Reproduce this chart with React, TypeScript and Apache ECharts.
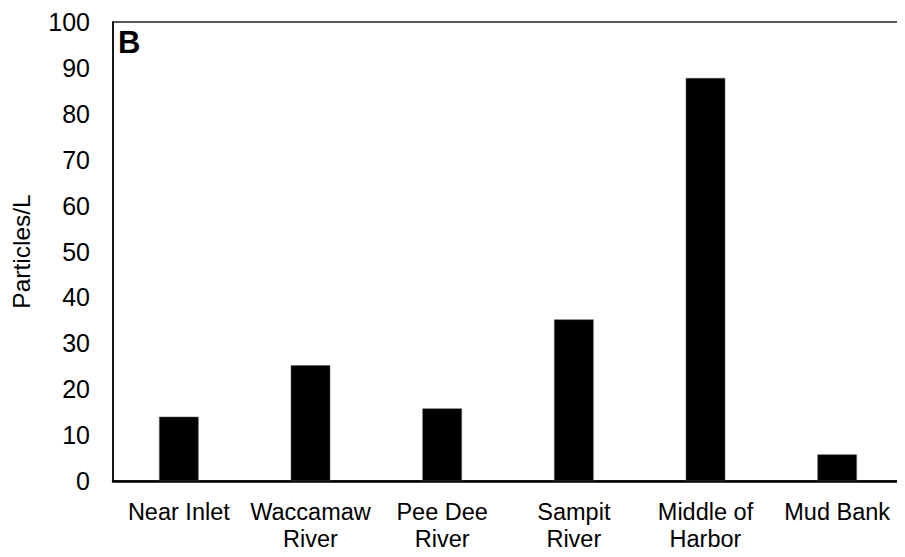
import React, { useEffect, useRef } from "react";
import * as echarts from "echarts";

const categories = ["Near Inlet", "Waccamaw\nRiver", "Pee Dee\nRiver", "Sampit\nRiver", "Middle of\nHarbor", "Mud Bank"];
const particlesPerL = [14.0, 25.2, 15.8, 35.2, 87.8, 5.8];
const yTicks = { min: 0, max: 100, interval: 10 };
const panelLabel = "B";
const yTitle = "Particles/L";

export default function App() {
  const ref = useRef<HTMLDivElement>(null);
  useEffect(() => {
    const chart = echarts.init(ref.current!, null, { renderer: "svg" });
    const font = "Liberation Sans, Arial, sans-serif";
    chart.setOption({
      animation: false,
      backgroundColor: "#fff",
      textStyle: { fontFamily: font },
      grid: {
        left: 113,
        right: 2,
        top: 22,
        bottom: 76,
        show: true,
        borderColor: "#222",
        borderWidth: 1.5,
      },
      xAxis: {
        type: "category",
        data: categories,
        axisLine: { show: true, lineStyle: { color: "#000", width: 2.5 } },
        axisTick: { show: false },
        axisLabel: {
          color: "#000",
          fontSize: 23.5,
          fontFamily: font,
          lineHeight: 27,
          margin: 17,
          interval: 0,
        },
      },
      yAxis: {
        type: "value",
        min: yTicks.min,
        max: yTicks.max,
        interval: yTicks.interval,
        name: yTitle,
        nameLocation: "middle",
        nameGap: 79,
        nameTextStyle: { color: "#000", fontSize: 24.5, fontFamily: font },
        axisLine: { show: true, lineStyle: { color: "#000", width: 1.5 } },
        axisTick: { show: false },
        splitLine: { show: false },
        axisLabel: { color: "#000", fontSize: 25, fontFamily: font, margin: 23 },
      },
      graphic: [
        {
          type: "text",
          left: 118,
          top: 27,
          style: {
            text: panelLabel,
            font: `bold 31px ${font}`,
            fill: "#000",
          },
        },
      ],
      series: [
        {
          type: "bar",
          data: particlesPerL,
          barWidth: "30%",
          itemStyle: { color: "#000", borderColor: "#555", borderWidth: 0.5 },
        },
      ],
    });
    return () => chart.dispose();
  }, []);
  return <div ref={ref} style={{ width: 905, height: 557, margin: -8 }} />;
}
